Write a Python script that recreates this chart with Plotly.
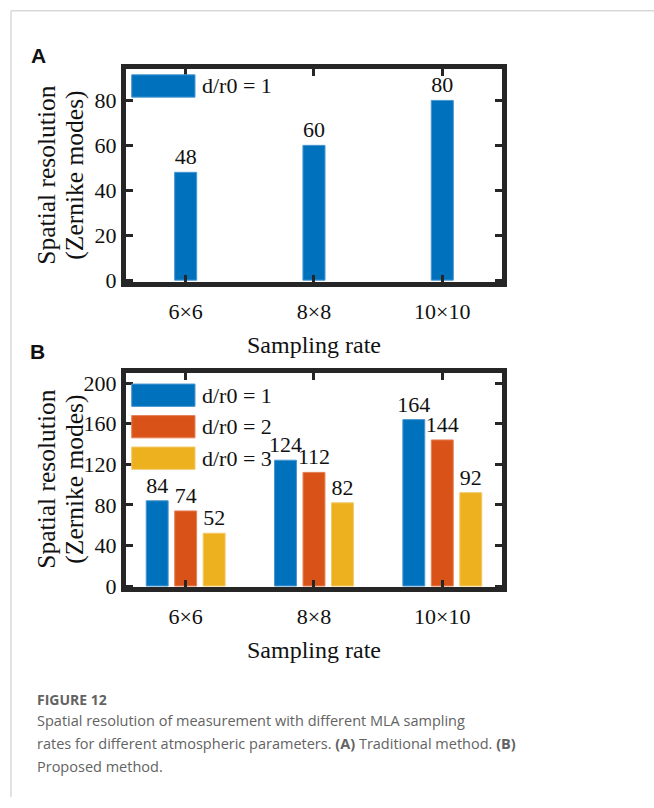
import plotly.graph_objects as go

W, H = 654, 808

# ---------------- data ----------------
categories = ["6×6", "8×8", "10×10"]
a_name = "d/r0 = 1"
a_values = [48, 60, 80]
b_names = ["d/r0 = 1", "d/r0 = 2", "d/r0 = 3"]
b_dr1 = [84, 124, 164]
b_dr2 = [74, 112, 144]
b_dr3 = [52, 82, 92]
b_series = [b_dr1, b_dr2, b_dr3]
a_yticks = [0, 20, 40, 60, 80]
b_yticks = [0, 40, 80, 120, 160, 200]
colors = ["#0072BD", "#D95319", "#EDB120"]
edge_colors = ["#4a97d1", "#e5835a", "#f3c96a"]

SERIF = "Liberation Serif, Times New Roman, serif"
SANS = "Liberation Sans, Arial, sans-serif"
CAP = "Open Sans, Noto Sans, sans-serif"
FRAME = "#262626"


def px(x):
    return x / W


def py(y):
    return 1 - y / H


fig = go.Figure()

# Panel A
fig.add_trace(go.Bar(
    x=categories, y=a_values, name=a_name, xaxis="x", yaxis="y",
    marker=dict(color=colors[0], line=dict(color=edge_colors[0], width=1)),
    width=0.172, offset=-0.086,
    text=[str(v) for v in a_values], textposition="outside",
    textfont=dict(family=SERIF, size=22, color="#111"),
    constraintext="none", cliponaxis=False, showlegend=False,
))

# Panel B
for name, vals, col, ecol in zip(b_names, b_series, colors, edge_colors):
    fig.add_trace(go.Bar(
        x=categories, y=vals, name=name, xaxis="x2", yaxis="y2",
        marker=dict(color=col, line=dict(color=ecol, width=1)),
        text=[str(v) for v in vals], textposition="outside",
        textfont=dict(family=SERIF, size=22, color="#111"),
        constraintext="none", cliponaxis=False, showlegend=False,
    ))

xdom = [px(126), px(501.7)]
common_x = dict(
    type="category", range=[-0.465, 2.463], showline=True, linewidth=5,
    linecolor=FRAME, mirror="ticks", ticks="inside", ticklen=7, tickwidth=3,
    tickcolor=FRAME, tickfont=dict(family=SERIF, size=22, color="#111"),
    ticklabelstandoff=5,
    showgrid=False, zeroline=False, fixedrange=True, domain=xdom,
)
common_y = dict(
    showline=True, linewidth=5, linecolor=FRAME, mirror="ticks",
    ticks="inside", ticklen=7, tickwidth=3, tickcolor=FRAME,
    tickfont=dict(family=SERIF, size=22, color="#111"),
    showgrid=False, zeroline=False, fixedrange=True,
)

fig.update_layout(
    width=W, height=H,
    margin=dict(l=0, r=0, t=0, b=0),
    paper_bgcolor="white", plot_bgcolor="white",
    font=dict(family=SERIF),
    barmode="group", bargap=0.334, bargroupgap=0.23,
    xaxis=dict(common_x, anchor="y"),
    yaxis=dict(common_y, anchor="x", domain=[py(285), py(68.3)],
               range=[-1.0, 93.9], tickvals=a_yticks),
    xaxis2=dict(common_x, anchor="y2"),
    yaxis2=dict(common_y, anchor="x2", domain=[py(595), py(376.7)],
                range=[-1.4, 210.3], tickvals=b_yticks),
)

annotations = []
shapes = []

# page border lines
shapes.append(dict(type="line", xref="paper", yref="paper", x0=px(11), x1=1,
                   y0=py(9), y1=py(9), line=dict(color="#d9d9d9", width=1.5)))
shapes.append(dict(type="line", xref="paper", yref="paper", x0=px(11), x1=px(11),
                   y0=py(9), y1=0, line=dict(color="#d9d9d9", width=1.5)))

# panel letters
for letter, (lx, ly) in zip(["A", "B"], [(38.5, 54.5), (37, 355)]):
    annotations.append(dict(text="<b>%s</b>" % letter, x=px(lx), y=py(ly), xref="paper",
                            yref="paper", showarrow=False, xanchor="center", yanchor="middle",
                            font=dict(family=SANS, size=21, color="#111")))

# y titles (two lines each)
for cy in [176.5, 485.5]:
    for txt, cx in [("Spatial resolution", 47), ("(Zernike modes)", 75)]:
        annotations.append(dict(text=txt, x=px(cx), y=py(cy), xref="paper", yref="paper",
                                showarrow=False, textangle=-90, xanchor="center",
                                yanchor="middle", font=dict(family=SERIF, size=25.5, color="#111")))

# x titles
for cy in [349, 659]:
    annotations.append(dict(text="Sampling rate", x=px(313.7), y=py(cy), xref="paper",
                            yref="paper", showarrow=False, xanchor="center", yanchor="middle",
                            font=dict(family=SERIF, size=24, color="#111")))


# custom legends (large MATLAB-style swatches)
def legend_entry(name, color, ecolor, top):
    shapes.append(dict(type="rect", xref="paper", yref="paper",
                       x0=px(131.7), x1=px(195), y0=py(top + 22.7), y1=py(top),
                       fillcolor=color, line=dict(color=ecolor, width=1)))
    annotations.append(dict(text=name, x=px(200), y=py(top + 11.3), xref="paper",
                            yref="paper", showarrow=False, xanchor="left", yanchor="middle",
                            font=dict(family=SERIF, size=22, color="#111")))


legend_entry(a_name, colors[0], edge_colors[0], 74)
for i, (name, col, ecol) in enumerate(zip(b_names, colors, edge_colors)):
    legend_entry(name, col, ecol, 388.3 + i * 32)

# caption
annotations.append(dict(text="<b>FIGURE 12</b>", x=px(35), y=py(709), xref="paper", yref="paper",
                        showarrow=False, xanchor="left", yanchor="middle",
                        font=dict(family=CAP, size=14, color="#636363")))
cap_lines = [
    "Spatial resolution of measurement with different MLA sampling",
    "rates for different atmospheric parameters. <b>(A)</b> Traditional method. <b>(B)</b>",
    "Proposed method.",
]
for i, line in enumerate(cap_lines):
    annotations.append(dict(text=line, x=px(35), y=py(730 + i * 23.5), xref="paper", yref="paper",
                            showarrow=False, xanchor="left", yanchor="middle",
                            font=dict(family=CAP, size=14.5, color="#636363")))

fig.update_layout(annotations=annotations, shapes=shapes)

fig.write_html("out.html")
